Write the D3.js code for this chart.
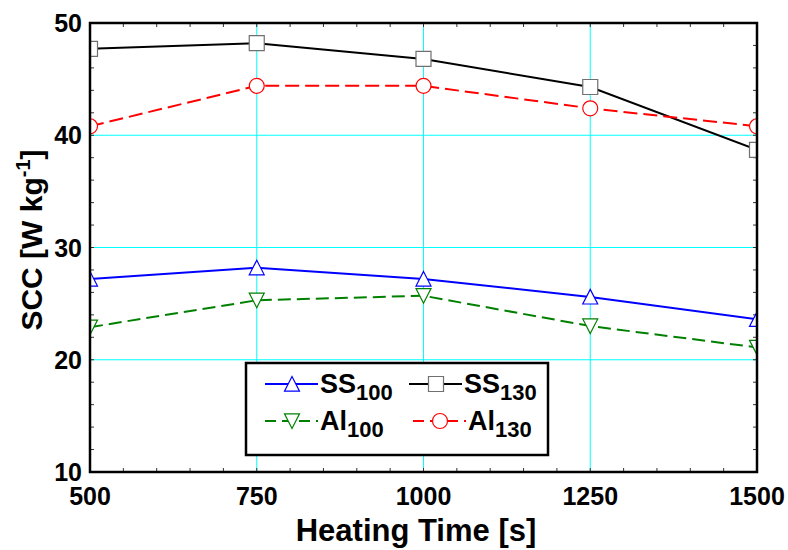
<!DOCTYPE html>
<html>
<head>
<meta charset="utf-8">
<script src="https://cdn.jsdelivr.net/npm/d3@7"></script>
<style>
  body { margin: 0; background: #fff; }
  text { font-family: "Liberation Sans", Arial, sans-serif; font-weight: bold; }
</style>
</head>
<body>
<div id="chart"></div>
<script>
// data

const times = [500, 750, 1000, 1250, 1500];
const ss100 = [27.2, 28.2, 27.2, 25.6, 23.6];
const ss130 = [47.7, 48.2, 46.8, 44.3, 38.7];
const al100 = [22.9, 25.3, 25.7, 23.0, 21.1];
const al130 = [40.8, 44.4, 44.4, 42.4, 40.8];

const xTicks = [500, 750, 1000, 1250, 1500];
const yTicks = [10, 20, 30, 40, 50];

// constants

const width = 788;
const height = 550;
const margin = {top: 23, bottom: 78, left: 90, right: 31};

const svg = d3.select("#chart")
  .append("svg")
  .attr("width", width)
  .attr("height", height);

const xScale = d3.scaleLinear()
  .domain([500, 1500])
  .range([margin.left, width - margin.right]);

const yScale = d3.scaleLinear()
  .domain([10, 50])
  .range([height - margin.bottom, margin.top]);

const x0 = xScale.range()[0], x1 = xScale.range()[1];
const y0 = yScale.range()[0], y1 = yScale.range()[1];

// grid

svg.append("g")
  .selectAll("line")
  .data(xTicks.slice(1, -1))
  .join("line")
  .attr("x1", d => xScale(d)).attr("x2", d => xScale(d))
  .attr("y1", y1).attr("y2", y0)
  .attr("stroke", "#00ffff").attr("stroke-width", 1);

svg.append("g")
  .selectAll("line")
  .data(yTicks.slice(1, -1))
  .join("line")
  .attr("x1", x0).attr("x2", x1)
  .attr("y1", d => yScale(d)).attr("y2", d => yScale(d))
  .attr("stroke", "#00ffff").attr("stroke-width", 1.2);

// minor ticks, inward, on all four sides

const xMinor = d3.range(500, 1501, 50);
const yMinor = d3.range(10, 51, 2);
const tickLen = 4;

const ticks = svg.append("g").attr("stroke", "#333").attr("stroke-width", 1);
ticks.selectAll(".tb").data(xMinor).join("line").attr("class", "tb")
  .attr("x1", d => xScale(d)).attr("x2", d => xScale(d))
  .attr("y1", y0).attr("y2", y0 - tickLen);
ticks.selectAll(".tt").data(xMinor).join("line").attr("class", "tt")
  .attr("x1", d => xScale(d)).attr("x2", d => xScale(d))
  .attr("y1", y1).attr("y2", y1 + tickLen);
ticks.selectAll(".tl").data(yMinor).join("line").attr("class", "tl")
  .attr("x1", x0).attr("x2", x0 + tickLen)
  .attr("y1", d => yScale(d)).attr("y2", d => yScale(d));
ticks.selectAll(".tr").data(yMinor).join("line").attr("class", "tr")
  .attr("x1", x1).attr("x2", x1 - tickLen)
  .attr("y1", d => yScale(d)).attr("y2", d => yScale(d));

// clip for series (markers get cut at the frame)

svg.append("clipPath").attr("id", "plotClip")
  .append("rect")
  .attr("x", x0).attr("y", y1)
  .attr("width", x1 - x0).attr("height", y0 - y1);

const series = [
  {name: "SS", sub: "100", values: ss100, color: "#0000ff", dash: null, marker: "up", mstroke: "#0000ff"},
  {name: "SS", sub: "130", values: ss130, color: "#000000", dash: null, marker: "square", mstroke: "#707070"},
  {name: "Al", sub: "100", values: al100, color: "#008000", dash: "13,6", marker: "down", mstroke: "#008000"},
  {name: "Al", sub: "130", values: al130, color: "#ff0000", dash: "14,6", marker: "circle", mstroke: "#ff0000"}
];

function markerPath(type) {
  const s = 7.5;
  if (type === "up") return `M0,${-s} L${s},${s * 0.95} L${-s},${s * 0.95} Z`;
  if (type === "down") return `M0,${s} L${s},${-s * 0.95} L${-s},${-s * 0.95} Z`;
  if (type === "square") return `M${-s},${-s} H${s} V${s} H${-s} Z`;
  return d3.symbol().type(d3.symbolCircle).size(Math.PI * s * s)();
}

const plot = svg.append("g").attr("clip-path", "url(#plotClip)");

const lineGen = d3.line()
  .x((d, i) => xScale(times[i]))
  .y(d => yScale(d));

series.forEach(s => {
  plot.append("path")
    .datum(s.values)
    .attr("fill", "none")
    .attr("stroke", s.color)
    .attr("stroke-width", 2)
    .attr("stroke-dasharray", s.dash)
    .attr("d", lineGen);

  plot.selectAll(null)
    .data(s.values)
    .join("path")
    .attr("transform", (d, i) => `translate(${xScale(times[i])},${yScale(d)})`)
    .attr("d", markerPath(s.marker))
    .attr("fill", "#fff")
    .attr("stroke", s.mstroke)
    .attr("stroke-width", 1.2);
});

// frame

svg.append("rect")
  .attr("x", x0).attr("y", y1)
  .attr("width", x1 - x0).attr("height", y0 - y1)
  .attr("fill", "none")
  .attr("stroke", "#000")
  .attr("stroke-width", 2.5);

// tick labels

svg.append("g")
  .selectAll("text")
  .data(xTicks)
  .join("text")
  .attr("x", d => xScale(d))
  .attr("y", 505)
  .attr("text-anchor", "middle")
  .attr("font-size", 25)
  .text(d => d);

svg.append("g")
  .selectAll("text")
  .data(yTicks)
  .join("text")
  .attr("x", 82)
  .attr("y", d => yScale(d) + 9)
  .attr("text-anchor", "end")
  .attr("font-size", 25)
  .text(d => d);

// axis titles

svg.append("text")
  .attr("x", 416)
  .attr("y", 541)
  .attr("text-anchor", "middle")
  .attr("font-size", 31)
  .text("Heating Time [s]");

const yTitle = svg.append("text")
  .attr("transform", "translate(42,240) rotate(-90)")
  .attr("text-anchor", "middle")
  .attr("font-size", 30);
yTitle.append("tspan").text("SCC [W kg");
yTitle.append("tspan").attr("font-size", 20).attr("dy", -12).text("-1");
yTitle.append("tspan").attr("dy", 12).text("]");

// legend

const legend = svg.append("g");
legend.append("rect")
  .attr("x", 246).attr("y", 363)
  .attr("width", 302).attr("height", 92)
  .attr("fill", "#fff")
  .attr("stroke", "#000")
  .attr("stroke-width", 2.5);

const legendPos = [
  {x: 265, y: 384},
  {x: 409, y: 384},
  {x: 265, y: 421},
  {x: 413, y: 421}
];

series.forEach((s, i) => {
  const p = legendPos[i];
  const g = legend.append("g").attr("transform", `translate(${p.x},${p.y})`);
  g.append("line")
    .attr("x1", 0).attr("x2", 53)
    .attr("stroke", s.color)
    .attr("stroke-width", 2)
    .attr("stroke-dasharray", s.dash ? "11,6" : null);
  g.append("path")
    .attr("transform", "translate(27,0)")
    .attr("d", markerPath(s.marker))
    .attr("fill", "#fff")
    .attr("stroke", s.mstroke)
    .attr("stroke-width", 1.2);
  const t = g.append("text")
    .attr("x", 55)
    .attr("y", 9)
    .attr("font-size", 27);
  t.append("tspan").text(s.name);
  t.append("tspan").attr("font-size", 22).attr("dy", 7).text(s.sub);
});
</script>
</body>
</html>
